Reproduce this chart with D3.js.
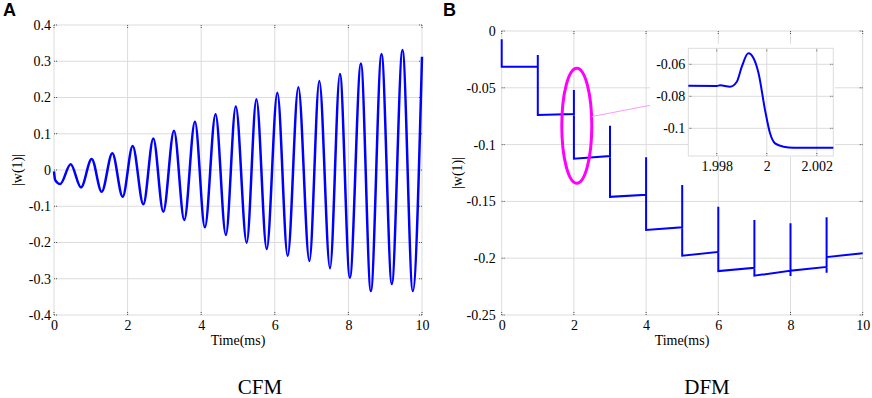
<!DOCTYPE html>
<html lang="en">
<head>
  <meta charset="UTF-8">
  <title>CFM / DFM |w(1)|</title>
  <script src="https://cdn.jsdelivr.net/npm/d3@7/dist/d3.min.js"></script>
  <style>
    body { margin: 0; background: #fff; }
    svg text { font-family: "Liberation Serif", "Times New Roman", serif; fill: #000; }
  </style>
</head>
<body>
<script>
  // ---- data ----
  // panel A: extrema of the CFM oscillation
  const cfmTime = [0, 0.03, 0.17, 0.453, 0.734, 1.024, 1.296, 1.585, 1.866, 2.138, 2.428, 2.699, 2.97, 3.261,
    3.54, 3.83, 4.10, 4.39, 4.67, 4.94, 5.236, 5.50, 5.78, 6.07, 6.35, 6.64, 6.94, 7.21, 7.5, 7.77,
    8.04, 8.34, 8.61, 8.90, 9.18, 9.47, 9.75, 10];
  const cfmValue = [-0.004, -0.027, -0.0386, 0.0156, -0.048, 0.0303, -0.060, 0.046, -0.0736, 0.066, -0.0947, 0.087, -0.115, 0.108,
    -0.138, 0.133, -0.158, 0.154, -0.179, 0.175, -0.2005, 0.195, -0.218, 0.213, -0.237, 0.228, -0.251, 0.2455, -0.271, 0.265,
    -0.297, 0.294, -0.334, 0.32, -0.3145, 0.331, -0.334, 0.3126];

  // panel B: switching steps of the DFM trace
  const dfmStepTime  = [0, 1, 2, 3, 4, 5, 6, 7, 8, 9];
  const dfmSpikeHigh = [-0.0073, -0.0211, -0.0519, -0.0834, -0.1112, -0.1356, -0.1547, -0.1664, -0.1693, -0.164];
  const dfmSpikeLow  = [-0.0314, -0.0739, -0.1124, -0.146, -0.1752, -0.1978, -0.2113, -0.2154, -0.2157, -0.2127];
  const dfmLevelStart = [-0.0314, -0.0739, -0.1124, -0.146, -0.1752, -0.1978, -0.2113, -0.2154, -0.211, -0.199];
  const dfmLevelEnd   = [-0.0314, -0.0730, -0.110, -0.1441, -0.1728, -0.1945, -0.2084, -0.211, -0.2077, -0.1957];

  // inset: zoom around t = 2 ms
  const insetTime  = [1.99686, 1.9980, 1.99813, 1.99853, 1.9988, 1.9990, 1.99926, 1.99947, 1.99967, 1.99993,
    2.00013, 2.00033, 2.00067, 2.00107, 2.00266];
  const insetValue = [-0.0734, -0.0735, -0.0731, -0.0740, -0.0709, -0.0615, -0.0531, -0.0562, -0.0656, -0.0886,
    -0.1031, -0.1094, -0.1115, -0.1121, -0.1121];

  const cfmXTicks = [0, 2, 4, 6, 8, 10];
  const cfmYTicks = [-0.4, -0.3, -0.2, -0.1, 0, 0.1, 0.2, 0.3, 0.4];
  const dfmXTicks = [0, 2, 4, 6, 8, 10];
  const dfmYTicks = [-0.25, -0.2, -0.15, -0.1, -0.05, 0];
  const insetXTicks = [1.998, 2, 2.002];
  const insetYTicks = [-0.1, -0.08, -0.06];

  const W = 872, H = 398;
  const gridColor = '#dcdcdc';
  const blue = '#0000ff';
  const serif = '"Liberation Serif", "Times New Roman", serif';
  const fmt = v => String(+v.toFixed(4)); // hyphen minus like the original

  const svg = d3.select('body').append('svg')
    .attr('width', W)
    .attr('height', H);

  svg.append('defs').append('marker')
    .attr('id', 'pinkArrow')
    .attr('markerWidth', 12).attr('markerHeight', 10)
    .attr('refX', 10).attr('refY', 4)
    .attr('orient', 'auto')
    .attr('markerUnits', 'userSpaceOnUse')
    .append('path')
    .attr('d', 'M0,0 L10,4 L0,8 L3,4 z')
    .attr('fill', '#ff00ff');

  // scales
  const xA = d3.scaleLinear([0, 10], [54, 422]);
  const yA = d3.scaleLinear([-0.4, 0.4], [315, 25]);
  const xB = d3.scaleLinear([0, 10], [501.7, 862.7]);
  const yB = d3.scaleLinear([-0.25, 0], [315, 31]);
  const xI = d3.scaleLinear([1.99686, 2.00266], [688.3, 833.3]);
  const yI = d3.scaleLinear([-0.1173, -0.05], [156, 48.3]);

  function frame(x, y, xTicks, yTicks, xPad, yPad) {
    const g = svg.append('g');
    const [x0, x1] = x.range(), [y0, y1] = y.range();
    // grid
    g.selectAll('.gx').data(xTicks).enter().append('line')
      .attr('x1', d => x(d)).attr('x2', d => x(d))
      .attr('y1', y0).attr('y2', y1)
      .attr('stroke', gridColor).attr('stroke-width', 1);
    g.selectAll('.gy').data(yTicks).enter().append('line')
      .attr('x1', x0).attr('x2', x1)
      .attr('y1', d => y(d)).attr('y2', d => y(d))
      .attr('stroke', gridColor).attr('stroke-width', 1);
    // small dotted tick marks on all four sides
    const tk = g.append('g').attr('stroke', '#555').attr('stroke-width', 1).attr('stroke-dasharray', '1,1');
    xTicks.forEach(d => {
      tk.append('line').attr('x1', x(d)).attr('x2', x(d)).attr('y1', y1).attr('y2', y1 + 4);
      tk.append('line').attr('x1', x(d)).attr('x2', x(d)).attr('y1', y0).attr('y2', y0 - 4);
    });
    yTicks.forEach(d => {
      tk.append('line').attr('y1', y(d)).attr('y2', y(d)).attr('x1', x0).attr('x2', x0 + 4);
      tk.append('line').attr('y1', y(d)).attr('y2', y(d)).attr('x1', x1).attr('x2', x1 - 4);
    });
    // labels via d3 axes
    const ax = g.append('g').attr('transform', `translate(0,${y0})`)
      .call(d3.axisBottom(x).tickValues(xTicks).tickFormat(fmt).tickSize(0).tickPadding(xPad));
    const ay = g.append('g').attr('transform', `translate(${x0},0)`)
      .call(d3.axisLeft(y).tickValues(yTicks).tickFormat(fmt).tickSize(0).tickPadding(yPad));
    [ax, ay].forEach(a => {
      a.attr('font-family', null).attr('font-size', null);
      a.select('.domain').remove();
      a.selectAll('text')
        .style('font-family', serif)
        .style('font-size', '14px')
        .attr('fill', '#000');
    });
    return g;
  }

  // ---- panel A ----
  frame(xA, yA, cfmXTicks, cfmYTicks, 5, 3);
  const cfmPts = cfmTime.map((t, i) => [t, cfmValue[i]]);
  svg.append('path')
    .datum(cfmPts)
    .attr('fill', 'none')
    .attr('stroke', blue)
    .attr('stroke-width', 2.5)
    .attr('stroke-linejoin', 'round')
    .attr('d', d3.line().x(d => xA(d[0])).y(d => yA(d[1])).curve(d3.curveMonotoneX));

  // ---- panel B ----
  frame(xB, yB, dfmXTicks, dfmYTicks, 5, 6);
  const dfmPts = [];
  dfmStepTime.forEach((t, i) => {
    if (i > 0) dfmPts.push([t, dfmLevelEnd[i - 1]]);
    dfmPts.push([t, dfmSpikeHigh[i]]);
    dfmPts.push([t, dfmSpikeLow[i]]);
    dfmPts.push([t, dfmLevelStart[i]]);
    const tNext = i + 1 < dfmStepTime.length ? dfmStepTime[i + 1] : 10;
    dfmPts.push([tNext, dfmLevelEnd[i]]);
  });
  svg.append('path')
    .datum(dfmPts)
    .attr('fill', 'none')
    .attr('stroke', blue)
    .attr('stroke-width', 2)
    .attr('d', d3.line().x(d => xB(d[0])).y(d => yB(d[1])));

  // highlight ellipse + arrow towards the inset
  const ex = xB(2.08), ey = yB(-0.0834);
  svg.append('ellipse')
    .attr('cx', ex).attr('cy', ey)
    .attr('rx', 15).attr('ry', 57.5)
    .attr('fill', 'none')
    .attr('stroke', '#ff00ff')
    .attr('stroke-width', 3);
  svg.append('line')
    .attr('x1', ex + 15).attr('y1', yB(-0.0753))
    .attr('x2', xI(1.99686) - 22).attr('y2', yI(-0.0837))
    .attr('stroke', '#ff99ff')
    .attr('stroke-width', 1)
    .attr('marker-end', 'url(#pinkArrow)');

  // ---- inset ----
  svg.append('rect').attr('x', 650).attr('y', 44).attr('width', 185).attr('height', 96).attr('fill', '#fff');
  svg.append('rect').attr('x', 688).attr('y', 47).attr('width', 147).attr('height', 110).attr('fill', '#fff');
  frame(xI, yI, insetXTicks, insetYTicks, 5, 3);
  svg.append('rect')
    .attr('x', xI.range()[0]).attr('y', yI.range()[1])
    .attr('width', xI.range()[1] - xI.range()[0])
    .attr('height', yI.range()[0] - yI.range()[1])
    .attr('fill', 'none').attr('stroke', gridColor);
  svg.append('path')
    .datum(insetTime.map((t, i) => [t, insetValue[i]]))
    .attr('fill', 'none')
    .attr('stroke', blue)
    .attr('stroke-width', 2)
    .attr('d', d3.line().x(d => xI(d[0])).y(d => yI(d[1])).curve(d3.curveMonotoneX));

  // ---- titles and labels ----
  svg.append('text').attr('x', 238).attr('y', 345).attr('text-anchor', 'middle')
    .attr('font-size', 14).text('Time(ms)');
  svg.append('text').attr('x', 682).attr('y', 345).attr('text-anchor', 'middle')
    .attr('font-size', 14).text('Time(ms)');
  svg.append('text').attr('transform', 'translate(17,170) rotate(-90)').attr('dy', '0.35em')
    .attr('text-anchor', 'middle').attr('font-size', 14).text('|w(1)|');
  svg.append('text').attr('transform', 'translate(457,173) rotate(-90)').attr('dy', '0.35em')
    .attr('text-anchor', 'middle').attr('font-size', 14).text('|w(1)|');
  svg.append('text').attr('x', 260).attr('y', 394).attr('text-anchor', 'middle')
    .attr('font-size', 21).text('CFM');
  svg.append('text').attr('x', 707).attr('y', 394).attr('text-anchor', 'middle')
    .attr('font-size', 21).text('DFM');
  svg.append('text').attr('x', 3).attr('y', 16)
    .style('font-family', '"Liberation Sans", Arial, sans-serif').attr('font-weight', 'bold')
    .attr('font-size', 18).text('A');
  svg.append('text').attr('x', 443).attr('y', 16)
    .style('font-family', '"Liberation Sans", Arial, sans-serif').attr('font-weight', 'bold')
    .attr('font-size', 18).text('B');
</script>
</body>
</html>
